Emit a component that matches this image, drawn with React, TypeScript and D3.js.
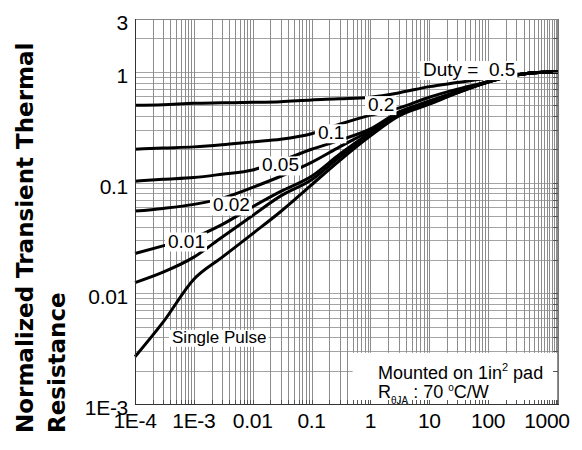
import React, { useEffect, useRef } from 'react';
import * as d3 from 'd3';

// pulse duration (s) where the curves were read
const timeSec = [1e-4, 3e-4, 1e-3, 3e-3, 0.01, 0.03, 0.1, 0.3, 1, 3, 10, 30, 100, 300, 1000, 1600];

// normalized Zth for each duty cycle
const duty05 = [0.5, 0.505, 0.52, 0.525, 0.53, 0.538, 0.558, 0.57, 0.59, 0.645, 0.735, 0.8, 0.879, 0.942, 0.995, 1.0];
const duty02 = [0.2, 0.205, 0.21, 0.219, 0.233, 0.246, 0.276, 0.336, 0.406, 0.47, 0.59, 0.698, 0.815, 0.935, 0.995, 1.0];
const duty01 = [0.103, 0.107, 0.111, 0.119, 0.13, 0.157, 0.2, 0.241, 0.305, 0.432, 0.545, 0.665, 0.815, 0.935, 0.995, 1.0];
const duty005 = [0.0552, 0.0584, 0.0635, 0.072, 0.0905, 0.114, 0.152, 0.21, 0.295, 0.424, 0.532, 0.66, 0.812, 0.935, 0.995, 1.0];
const duty002 = [0.0229, 0.0268, 0.0319, 0.0417, 0.0605, 0.0832, 0.114, 0.18, 0.283, 0.415, 0.521, 0.655, 0.81, 0.935, 0.995, 1.0];
const duty001 = [0.01247, 0.0155, 0.0212, 0.0321, 0.0505, 0.0758, 0.106, 0.17, 0.273, 0.406, 0.516, 0.65, 0.81, 0.935, 0.995, 1.0];
const singlePulse = [0.00267, 0.00548, 0.0134, 0.0211, 0.0346, 0.0548, 0.0955, 0.158, 0.264, 0.398, 0.51, 0.645, 0.81, 0.935, 0.995, 1.0];

const seriesList = [duty05, duty02, duty01, duty005, duty002, duty001, singlePulse];

// curve labels (text start, baseline) in data units
const labelText = ['Duty =  0.5', '0.2', '0.1', '0.05', '0.02', '0.01', 'Single Pulse'];
const labelX = [7.8, 0.91, 0.128, 0.0144, 0.00211, 3.64e-4, 4.26e-4];
const labelY = [0.916, 0.442, 0.246, 0.126, 0.0548, 0.0259, 0.00357];

const xTickValues = [1e-4, 1e-3, 0.01, 0.1, 1, 10, 100, 1000];
const xTickLabels = ['1E-4', '1E-3', '0.01', '0.1', '1', '10', '100', '1000'];
const yTickValues = [3, 1, 0.1, 0.01, 0.001];
const yTickLabels = ['3', '1', '0.1', '0.01', '1E-3'];

const App = () => {
  const svgRef = useRef<SVGSVGElement>(null);

  useEffect(() => {
    const svg = d3.select(svgRef.current);
    svg.selectAll('*').remove();

    const width = 582;
    const height = 450;
    const margin = { top: 19, right: 23, bottom: 46, left: 135 };
    const font = "'Liberation Sans', Arial, sans-serif";

    const x = d3.scaleLog().domain([1e-4, 1600]).range([margin.left, width - margin.right]);
    const y = d3.scaleLog().domain([1e-3, 3]).range([height - margin.bottom, margin.top]);
    const [x0, x1] = x.range();
    const [y0, y1] = y.range();

    // grid
    const xGrid = x.ticks().concat(d3.range(1100, 1600, 100));
    const yGrid = y.ticks();

    svg.append('g')
      .selectAll('line')
      .data(yGrid)
      .enter().append('line')
      .attr('x1', x0).attr('x2', x1)
      .attr('y1', d => Math.round(y(d)) + 0.5)
      .attr('y2', d => Math.round(y(d)) + 0.5)
      .attr('stroke', '#a4a4a4');

    svg.append('g')
      .selectAll('line')
      .data(xGrid)
      .enter().append('line')
      .attr('x1', d => Math.round(x(d)) + 0.5)
      .attr('x2', d => Math.round(x(d)) + 0.5)
      .attr('y1', y1).attr('y2', y0)
      .attr('stroke', '#8c8c8c');

    // curves
    const line = d3.line<number>()
      .x((_, i) => x(timeSec[i]))
      .y(d => y(d))
      .curve(d3.curveMonotoneX);

    svg.append('g')
      .selectAll('path')
      .data(seriesList)
      .enter().append('path')
      .attr('d', d => line(d))
      .attr('fill', 'none')
      .attr('stroke', '#000')
      .attr('stroke-width', 3)
      .attr('stroke-linejoin', 'round');

    // curve labels with white boxes
    const labels = svg.append('g');
    labelText.forEach((t, i) => {
      const g = labels.append('g');
      const rect = g.append('rect').attr('fill', '#fff');
      const txt = g.append('text')
        .attr('x', x(labelX[i]))
        .attr('y', y(labelY[i]))
        .style('font-family', font)
        .style('font-size', i === 6 ? '17px' : '19px')
        .style('white-space', 'pre')
        .attr('fill', '#000')
        .text(t);
      const bb = (txt.node() as SVGTextElement).getBBox();
      rect.attr('x', bb.x - 3).attr('y', bb.y + 2)
        .attr('width', bb.width + 5).attr('height', bb.height - 2);
    });

    // mounting note
    svg.append('rect')
      .attr('x', x(0.5)).attr('y', y(0.0029))
      .attr('width', x1 - 2 - x(0.5))
      .attr('height', y0 - 1 - y(0.0029))
      .attr('fill', '#fff');

    const note = svg.append('g')
      .style('font-family', font)
      .attr('fill', '#000');
    const l1 = note.append('text')
      .attr('x', x(1.34)).attr('y', y(0.00168))
      .style('font-size', '18px');
    l1.append('tspan').text('Mounted on 1in');
    l1.append('tspan').attr('dy', -8).style('font-size', '11px').text('2');
    l1.append('tspan').attr('dy', 8).text(' pad');

    const l2 = note.append('text')
      .attr('x', x(1.34)).attr('y', y(0.00168) + 19)
      .style('font-size', '18px')
      .style('white-space', 'pre');
    l2.append('tspan').text('R');
    l2.append('tspan').attr('dy', 6).style('font-size', '10px').text('θJA');
    l2.append('tspan').attr('dy', -6).text(' : 70 ');
    l2.append('tspan').attr('dy', -7).style('font-size', '10px').text('o');
    l2.append('tspan').attr('dy', 7).text('C/W');

    // inward ticks
    const ticks = svg.append('g').attr('stroke', '#555');
    xGrid.forEach(v => {
      const px = Math.round(x(v)) + 0.5;
      ticks.append('line').attr('x1', px).attr('x2', px).attr('y1', y0).attr('y2', y0 - 4);
    });
    yGrid.forEach(v => {
      const py = Math.round(y(v)) + 0.5;
      ticks.append('line').attr('x1', x1).attr('x2', x1 - 6).attr('y1', py).attr('y2', py);
    });

    // frame
    svg.append('line').attr('x1', x0).attr('x2', x1).attr('y1', y1 + 0.5).attr('y2', y1 + 0.5).attr('stroke', '#888');
    svg.append('line').attr('x1', x1 - 0.5).attr('x2', x1 - 0.5).attr('y1', y1).attr('y2', y0).attr('stroke', '#777');
    svg.append('line').attr('x1', x0 + 0.5).attr('x2', x0 + 0.5).attr('y1', y1).attr('y2', y0 + 1).attr('stroke', '#333');
    svg.append('line').attr('x1', x0).attr('x2', x1).attr('y1', y0 + 0.5).attr('y2', y0 + 0.5).attr('stroke', '#333');

    // tick labels
    svg.append('g')
      .selectAll('text')
      .data(xTickValues)
      .enter().append('text')
      .attr('x', d => x(d))
      .attr('y', 428)
      .attr('text-anchor', 'middle')
      .style('font-family', font)
      .style('font-size', '21px')
      .style('letter-spacing', '-0.3px')
      .text((_, i) => xTickLabels[i]);

    svg.append('g')
      .selectAll('text')
      .data(yTickValues)
      .enter().append('text')
      .attr('x', x0 - 7)
      .attr('y', d => y(d) + 11)
      .attr('text-anchor', 'end')
      .style('font-family', font)
      .style('font-size', '21px')
      .style('letter-spacing', '-0.3px')
      .text((_, i) => yTickLabels[i]);

    // y title
    const title = svg.append('g')
      .style('font-family', "'DejaVu Sans', Verdana, sans-serif")
      .style('font-size', '23px')
      .style('font-weight', 'bold');
    title.append('text')
      .attr('transform', 'translate(33,433) rotate(-90)')
      .text('Normalized Transient Thermal');
    title.append('text')
      .attr('transform', 'translate(65,433) rotate(-90)')
      .text('Resistance');
  }, []);

  return (
    <svg
      ref={svgRef}
      width={582}
      height={450}
      style={{ position: 'absolute', left: 0, top: 0, background: '#fff' }}
    />
  );
};

export default App;
